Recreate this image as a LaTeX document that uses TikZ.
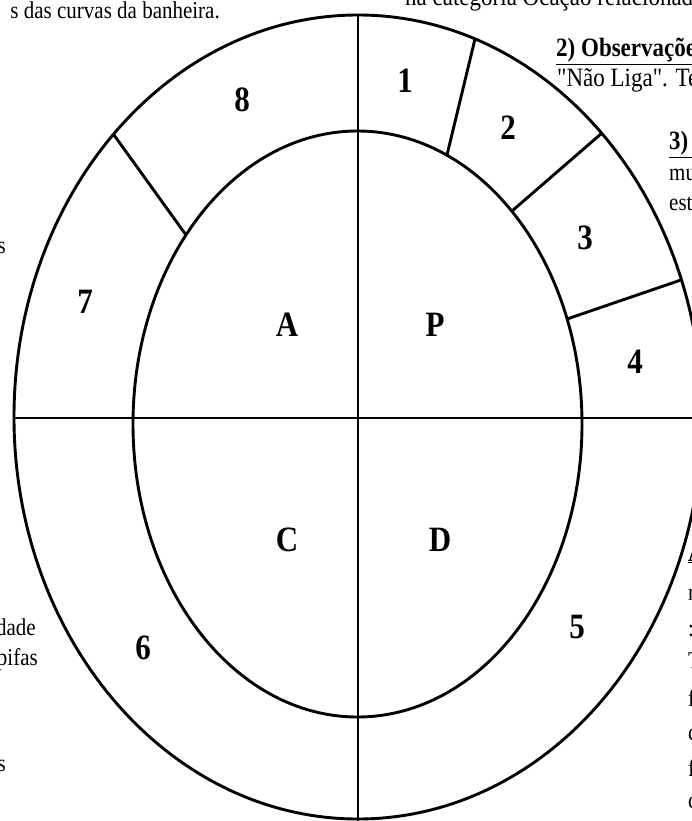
\documentclass[tikz,border=0pt]{standalone}
\usepackage{fontspec}
\setmainfont{Liberation Serif}
\newcommand{\tallt}[1]{\scalebox{1}[1.15]{#1}}
\begin{document}
\begin{tikzpicture}[x=1pt,y=-1pt,
  stroke/.style={line width=2.9pt, black},
  lbl/.style={font=\fontsize{31}{31}\selectfont\bfseries, inner sep=0pt},
  txt/.style={font=\fontsize{21}{21}\selectfont, inner sep=0pt},
  txtb/.style={font=\fontsize{23}{23}\selectfont, inner sep=0pt},
  hdr/.style={font=\fontsize{23}{23}\selectfont\bfseries, inner sep=0pt}]
\clip (0,0) rectangle (692,821);
\fill[white] (0,0) rectangle (692,821);
% rings
\draw[stroke] (358,417) ellipse [x radius=344pt, y radius=402pt];
\draw[stroke] (357.5,424) ellipse [x radius=224.5pt, y radius=293pt];
% axes
\coordinate (vt) at (358,15);
\coordinate (vb) at (358,821);
\coordinate (hl) at (14,418);
\coordinate (hr) at (702,418);
\draw[stroke] (vt) -- (vb);
\draw[stroke] (hl) -- (hr);
% dividers
\coordinate (d78o) at (114,135); \coordinate (d78i) at (186,235);
\coordinate (d12o) at (475,39);  \coordinate (d12i) at (447,155);
\coordinate (d23o) at (602,133); \coordinate (d23i) at (512,211);
\coordinate (d34o) at (681,280); \coordinate (d34i) at (567,319);
\draw[stroke] (d78o) -- (d78i);
\draw[stroke] (d12o) -- (d12i);
\draw[stroke] (d23o) -- (d23i);
\draw[stroke] (d34o) -- (d34i);
% labels
\node[lbl] (n1) at (405,81) {\tallt{1}};
\node[lbl] (n2) at (508,128) {\tallt{2}};
\node[lbl] (n3) at (585,238) {\tallt{3}};
\node[lbl] (n4) at (635,362) {\tallt{4}};
\node[lbl] (n5) at (577,627) {\tallt{5}};
\node[lbl] (n6) at (143,648) {\tallt{6}};
\node[lbl] (n7) at (85,302) {\tallt{7}};
\node[lbl] (n8) at (242,100) {\tallt{8}};
\node[lbl] (nA) at (287,325) {\tallt{A}};
\node[lbl] (nP) at (435,325) {\tallt{P}};
\node[lbl] (nC) at (287,540) {\tallt{C}};
\node[lbl] (nD) at (440,540) {\tallt{D}};
% surrounding text fragments
\node[txt, anchor=base east] (t1) at (220,19) {\tallt{s das curvas da banheira.}};
\node[txtb, anchor=base west] (t2) at (405,6) {\tallt{na categoria Ocação relacionada}};
\node[hdr, anchor=base west] (t3) at (556,57) {\tallt{\underline{2) Observações}}};
\node[txtb, anchor=base west] (t4) at (557,87) {\tallt{\textquotedbl Não Liga\textquotedbl. Tem}};
\node[hdr, anchor=base west] (t5) at (669,150) {\tallt{\underline{3) Nota}}};
\node[txt, anchor=base west] (t6) at (669,180) {\tallt{muito}};
\node[txt, anchor=base west] (t7) at (669,210) {\tallt{estas}};
\node[txt, anchor=base east] (l1) at (6,253) {\tallt{as}};
\node[txt, anchor=base east] (l2) at (36,635) {\tallt{idade}};
\node[txt, anchor=base east] (l3) at (38,665) {\tallt{pifas}};
\node[txt, anchor=base east] (l4) at (6,771) {\tallt{as}};
\node[hdr, anchor=base west] (r1) at (688,561) {\tallt{\underline{A}}};
\node[txt, anchor=base west] (r2) at (688,600) {\tallt{r}};
\node[txt, anchor=base west] (r3) at (688,636) {\tallt{:}};
\node[txt, anchor=base west] (r4) at (688,668) {\tallt{T}};
\node[txt, anchor=base west] (r5) at (688,706) {\tallt{f}};
\node[txt, anchor=base west] (r6) at (688,740) {\tallt{c}};
\node[txt, anchor=base west] (r7) at (688,776) {\tallt{f}};
\node[txt, anchor=base west] (r8) at (688,808) {\tallt{c}};
\end{tikzpicture}
\end{document}
